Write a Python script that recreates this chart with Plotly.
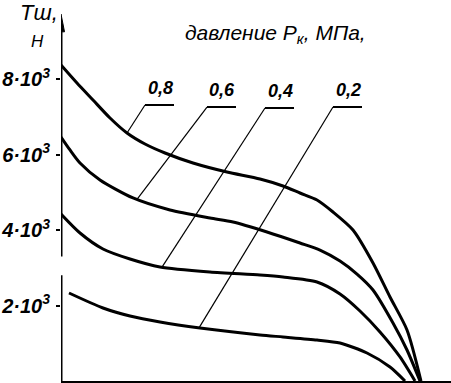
import numpy as np
import plotly.graph_objects as go

# ---- data (x: arbitrary travel units, no scale shown; y: force T_ш in N) ----
pressures = ["0,8", "0,6", "0,4", "0,2"]

x_08 = [0, 16, 32, 49, 66, 84, 104, 132, 166, 199, 222, 239, 256, 272, 292, 312, 329, 346, 360]
y_08 = [8371, 7894, 7444, 6967, 6570, 6278, 6040, 5775, 5536, 5351, 5166, 4980, 4795, 4477, 4000, 3126, 2225, 1351, 0]

x_06 = [0, 9, 19, 39, 72, 109, 149, 172, 206, 239, 259, 279, 296, 312, 332, 346, 359]
y_06 = [6464, 6120, 5775, 5325, 4848, 4530, 4318, 4212, 3947, 3656, 3470, 3179, 2834, 2411, 1536, 821, 0]

x_04 = [0, 19, 42, 69, 99, 149, 199, 222, 256, 279, 299, 319, 339, 354]
y_04 = [4424, 3921, 3497, 3232, 3020, 2887, 2808, 2755, 2623, 2305, 1854, 1298, 636, 0]

x_02 = [8, 42, 69, 99, 139, 199, 222, 256, 279, 306, 329, 344]
y_02 = [2331, 1934, 1722, 1563, 1404, 1219, 1166, 1086, 1007, 742, 371, 0]

y_tickvals = [2000, 4000, 6000, 8000]
y_ticktext = ["2·10<sup>3</sup>", "4·10<sup>3</sup>", "6·10<sup>3</sup>", "8·10<sup>3</sup>"]
x_tickvals = [68, 143]

# label placement (underline left end, x on the curve where leader ends)
label_x = [84, 146, 204, 272]
label_y = [7311, 7258, 7232, 7258]
leader_end_x = [66, 76, 101, 138]

series = [(x_08, y_08), (x_06, y_06), (x_04, y_04), (x_02, y_02)]

XR = [0, 390]
YR = [0, 10093]


def px(xv):
    return (xv - XR[0]) / (XR[1] - XR[0])


def py(yv):
    return (yv - YR[0]) / (YR[1] - YR[0])


fig = go.Figure()
for (xs, ys), name in zip(series, pressures):
    fig.add_trace(go.Scatter(x=xs, y=ys, mode="lines", name=name,
                             line=dict(color="black", width=3, shape="spline", smoothing=0.7),
                             cliponaxis=False, showlegend=False, hoverinfo="skip"))

font_it = "Liberation Sans"
shapes = []
annotations = []
for (xs, ys), name, lx, ly, ex in zip(series, pressures, label_x, label_y, leader_end_x):
    ey = float(np.interp(ex, xs, ys))
    shapes.append(dict(type="line", x0=lx, y0=ly, x1=ex, y1=ey,
                       line=dict(color="black", width=1.2)))
    shapes.append(dict(type="line", x0=lx, y0=ly, x1=lx + 29, y1=ly,
                       line=dict(color="black", width=2)))
    annotations.append(dict(x=lx + 15, y=ly + 120, text="<b><i>" + name + "</i></b>",
                            showarrow=False, xanchor="center", yanchor="bottom",
                            font=dict(family=font_it, size=18, color="black")))

# y axis (with a small break), arrow head
shapes.append(dict(type="line", x0=0, y0=0, x1=0, y1=2800, line=dict(color="black", width=3)))
shapes.append(dict(type="line", x0=0, y0=3300, x1=0, y1=9300, line=dict(color="black", width=3)))
shapes.append(dict(type="path", path="M -3.5 9250 L 0 9720 L 3.5 9250 Z",
                   fillcolor="black", line=dict(color="black", width=1)))

annotations.append(dict(x=px(214), y=py(9200), xref="paper", yref="paper",
                        text="<i>давление P<sub>к</sub>, МПа,</i>",
                        showarrow=False, xanchor="center", yanchor="middle",
                        font=dict(family=font_it, size=21, color="black")))
annotations.append(dict(x=px(-22), y=py(9750), xref="paper", yref="paper",
                        text="<i>Tш,</i>", showarrow=False,
                        xanchor="center", yanchor="middle",
                        font=dict(family=font_it, size=22, color="black")))
annotations.append(dict(x=px(-24), y=py(9000), xref="paper", yref="paper",
                        text="<i>Н</i>", showarrow=False,
                        xanchor="center", yanchor="middle",
                        font=dict(family=font_it, size=17, color="black")))

fig.update_layout(
    width=451, height=383,
    margin=dict(l=61, r=0, t=0, b=2),
    paper_bgcolor="white", plot_bgcolor="white",
    shapes=shapes, annotations=annotations,
    xaxis=dict(range=XR, showgrid=False, zeroline=False, showline=True, automargin=False,
               linecolor="black", linewidth=2, tickvals=x_tickvals, ticks="outside",
               ticklen=4, tickwidth=2, tickcolor="black", showticklabels=False),
    yaxis=dict(range=YR, showgrid=False, zeroline=False, showline=False, automargin=False,
               tickvals=y_tickvals, ticktext=["<b><i>" + t + "</i></b>" for t in y_ticktext],
               ticks="outside", ticklen=4, tickwidth=2, tickcolor="black",
               tickfont=dict(family=font_it, size=20, color="black"), ticklabelstandoff=2),
)

fig.write_html("out.html", config={"displayModeBar": False},
               post_script="document.body.style.margin='0';document.body.style.overflow='hidden';")
